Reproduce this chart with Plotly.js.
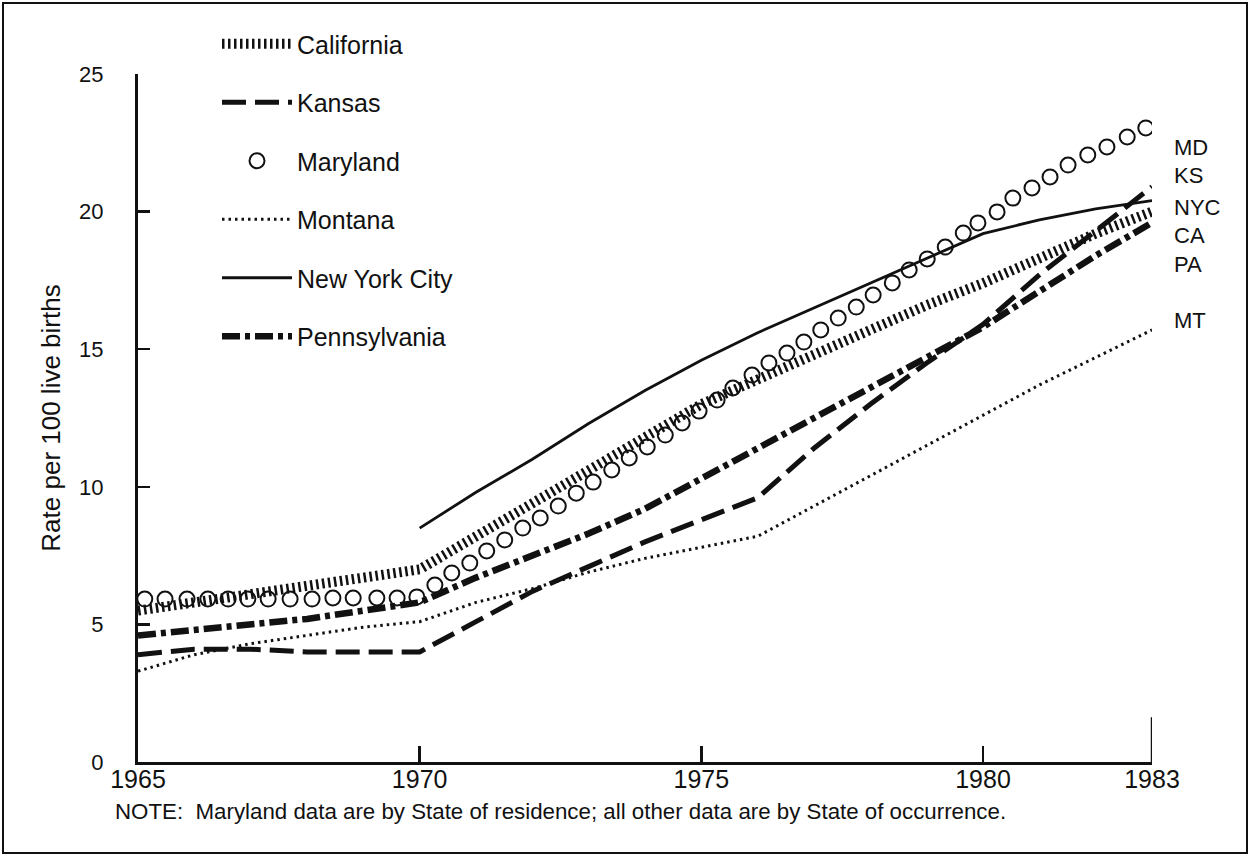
<!DOCTYPE html>
<html>
<head>
<meta charset="utf-8">
<script src="https://cdn.plot.ly/plotly-3.0.1.min.js"></script>
<style>
  html, body { margin: 0; padding: 0; background: #fff; }
  #chart { width: 1251px; height: 856px; }
</style>
</head>
<body>
<div id="chart"></div>
<script>
// ---- data ----
const years = [1965, 1966, 1967, 1968, 1969, 1970, 1971, 1972, 1973, 1974,
               1975, 1976, 1977, 1978, 1979, 1980, 1981, 1982, 1983];

const california   = [5.5, 5.8, 6.1, 6.4, 6.7, 7.0, 8.2, 9.4, 10.6, 11.8,
                      13.0, 13.9, 14.8, 15.7, 16.6, 17.4, 18.3, 19.2, 20.0];
const kansas       = [3.9, 4.1, 4.1, 4.0, 4.0, 4.0, 5.1, 6.2, 7.1, 8.0,
                      8.8, 9.6, 11.4, 13.0, 14.5, 15.9, 17.7, 19.3, 20.9];
const montana      = [3.3, 3.9, 4.3, 4.6, 4.9, 5.1, 5.8, 6.3, 6.9, 7.4,
                      7.8, 8.2, 9.3, 10.4, 11.5, 12.6, 13.7, 14.7, 15.7];
const newYorkCity  = [null, null, null, null, null, 8.5, 9.8, 11.0, 12.3, 13.5,
                      14.6, 15.6, 16.5, 17.4, 18.3, 19.2, 19.7, 20.1, 20.4];
const pennsylvania = [4.6, 4.8, 5.0, 5.2, 5.5, 5.8, 6.7, 7.5, 8.3, 9.2,
                      10.3, 11.4, 12.5, 13.6, 14.7, 15.8, 17.1, 18.4, 19.6];

// Maryland is drawn as a chain of open circles; position of each circle
const marylandX = [1965.12, 1965.48, 1965.87, 1966.24, 1966.60, 1966.95, 1967.31, 1967.70,
                   1968.09, 1968.46, 1968.82, 1969.24, 1969.60, 1969.95, 1970.27, 1970.57,
                   1970.89, 1971.19, 1971.51, 1971.83, 1972.14, 1972.46, 1972.78, 1973.08,
                   1973.41, 1973.72, 1974.04, 1974.36, 1974.66, 1974.96, 1975.28, 1975.56,
                   1975.90, 1976.20, 1976.52, 1976.82, 1977.12, 1977.43, 1977.75, 1978.05,
                   1978.39, 1978.69, 1979.01, 1979.33, 1979.65, 1979.91, 1980.25, 1980.53,
                   1980.87, 1981.19, 1981.51, 1981.86, 1982.20, 1982.56, 1982.89];
const marylandY = [5.92, 5.92, 5.92, 5.92, 5.92, 5.92, 5.92, 5.92,
                   5.92, 5.96, 5.96, 5.96, 5.96, 6.00, 6.43, 6.87,
                   7.23, 7.67, 8.07, 8.50, 8.87, 9.30, 9.77, 10.17,
                   10.61, 11.05, 11.45, 11.88, 12.32, 12.75, 13.15, 13.59,
                   14.06, 14.50, 14.86, 15.26, 15.70, 16.13, 16.53, 16.97,
                   17.41, 17.88, 18.28, 18.71, 19.22, 19.59, 19.99, 20.49,
                   20.86, 21.26, 21.69, 22.06, 22.35, 22.71, 23.04];

const seriesNames = ["California", "Kansas", "Maryland", "Montana", "New York City", "Pennsylvania"];
const endLabels   = ["MD", "KS", "NYC", "CA", "PA", "MT"];
const yTicks      = [0, 5, 10, 15, 20, 25];
const xTicks      = [1965, 1970, 1975, 1980, 1983];
const xTickText   = ["1965", "1970", "1975", "1980", "1983"];
const yTitle      = "Rate per 100 live births";
const noteText    = "NOTE:  Maryland data are by State of residence; all other data are by State of occurrence.";

// ---- figure ----
const FONT = "Liberation Sans, Arial, Helvetica, sans-serif";
const ink = "#111";

const traces = [
  { x: years, y: california, name: seriesNames[0], mode: "lines", legendgroup: "a",
    line: { color: ink, width: 10, dash: "2.5px,3.5px" } },
  { x: years, y: kansas, name: seriesNames[1], mode: "lines", legendgroup: "b",
    line: { color: ink, width: 5, dash: "24px,9px" } },
  { x: marylandX, y: marylandY, name: seriesNames[2], mode: "markers", legendgroup: "c",
    marker: { symbol: "circle-open", size: 15, color: ink, line: { width: 2, color: ink } } },
  { x: years, y: montana, name: seriesNames[3], mode: "lines", legendgroup: "d",
    line: { color: ink, width: 3, dash: "2.5px,4px" } },
  { x: years, y: newYorkCity, name: seriesNames[4], mode: "lines", legendgroup: "e",
    line: { color: ink, width: 2.8 } },
  { x: years, y: pennsylvania, name: seriesNames[5], mode: "lines", legendgroup: "f",
    line: { color: ink, width: 6.5, dash: "18px,5px,5px,5px" } }
];

// right-hand end labels (pixel rows converted to paper units)
const labelRows = [148, 175, 207, 236, 264, 320];
const annotations = endLabels.map((t, i) => ({
  text: t, xref: "paper", yref: "paper",
  x: (1172 - 138) / 1014, y: (762 - labelRows[i]) / 688,
  xanchor: "left", yanchor: "middle", showarrow: false,
  font: { family: FONT, size: 22, color: ink }
}));
annotations.push({
  text: noteText, xref: "paper", yref: "paper",
  x: (113 - 138) / 1014, y: (762 - 812) / 688,
  xanchor: "left", yanchor: "middle", showarrow: false,
  font: { family: FONT, size: 22.3, color: ink }
});

const shapes = [
  // outer frame
  { type: "rect", xref: "paper", yref: "paper",
    x0: (3 - 138) / 1014, x1: (1247 - 138) / 1014,
    y0: (762 - 853) / 688, y1: (762 - 3) / 688,
    line: { color: ink, width: 2 }, fillcolor: "rgba(0,0,0,0)" },
  // taller end tick at the last year
  { type: "line", xref: "x", yref: "paper",
    x0: xTicks[xTicks.length - 1], x1: xTicks[xTicks.length - 1], y0: 0, y1: 0.065,
    line: { color: ink, width: 2.5 } }
];

const layout = {
  width: 1251, height: 856,
  margin: { l: 138, r: 99, t: 74, b: 94, pad: 0 },
  paper_bgcolor: "#fff", plot_bgcolor: "#fff",
  font: { family: FONT, size: 22, color: ink },
  showlegend: true,
  legend: {
    x: (217 - 138) / 1014, y: (762 - 21) / 688, xanchor: "left", yanchor: "top",
    bgcolor: "rgba(0,0,0,0)", borderwidth: 0,
    font: { family: FONT, size: 25, color: ink },
    traceorder: "grouped", tracegroupgap: 23, itemwidth: 70
  },
  xaxis: {
    range: [1965, 1983], tickvals: xTicks, ticktext: xTickText,
    ticks: "inside", ticklen: 16, tickwidth: 2.5, tickcolor: ink,
    showline: true, linewidth: 3, linecolor: ink, mirror: false,
    showgrid: false, zeroline: false, fixedrange: true,
    ticklabelstandoff: -7,
    tickfont: { family: FONT, size: 25, color: ink }
  },
  yaxis: {
    range: [0, 25], tickvals: yTicks,
    ticks: "inside", ticklen: 12, tickwidth: 2.5, tickcolor: ink,
    showline: true, linewidth: 3, linecolor: ink,
    showgrid: false, zeroline: false, fixedrange: true,
    ticklabelstandoff: 27,
    tickfont: { family: FONT, size: 22, color: ink },
    title: { text: yTitle, standoff: 12, font: { family: FONT, size: 26, color: ink } }
  },
  annotations: annotations,
  shapes: shapes
};

Plotly.newPlot("chart", traces, layout, { displayModeBar: false, staticPlot: true });
</script>
</body>
</html>
